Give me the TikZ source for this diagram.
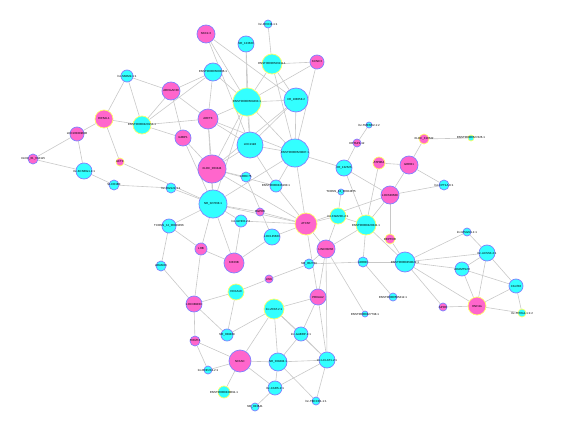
\documentclass[tikz,border=0pt]{standalone}
\usepackage{fontspec}
\setmainfont{Liberation Sans}
\usetikzlibrary{backgrounds}
\definecolor{NodeCyan}{RGB}{51,255,255}
\definecolor{NodePink}{RGB}{255,102,204}
\definecolor{RimBlue}{RGB}{128,128,255}
\definecolor{RimYellow}{RGB}{255,255,102}
\definecolor{EdgeGray}{RGB}{200,200,200}
\begin{document}
\begin{tikzpicture}[x=1pt, y=-1pt,
	gnode/.style={circle, draw, line width=0.7pt, inner sep=0pt,
		label={[font=\fontsize{2.9}{3.2}\selectfont, inner sep=0pt]center:#1}},
	cy/.style={gnode=#1, fill=NodeCyan, draw=RimBlue},
	cyy/.style={gnode=#1, fill=NodeCyan, draw=RimYellow},
	mg/.style={gnode=#1, fill=NodePink, draw=RimBlue},
	mgy/.style={gnode=#1, fill=NodePink, draw=RimYellow},
	dia/.style={minimum size=#1pt},
	edge/.style={draw=EdgeGray, line width=0.6pt}]
	\path[use as bounding box] (0,0) rectangle (571,423);
	% upper part
	\node[cy=lnc-DHX34-1:1, dia=8] (dhx) at (268,24) {};
	\node[mg=NKX2-3, dia=18] (nkx) at (206,34) {};
	\node[cy=NR\_133660, dia=16] (nr133) at (246,44) {};
	\node[cyy=ENST00000526111.1, dia=20] (enstA) at (272,64) {};
	\node[mg=KCNC3, dia=14] (kcnc) at (317,62) {};
	\node[cy=ENST00000580306.1, dia=18] (enstB) at (213,72) {};
	\node[cy=lnc-SMIM2-1:1, dia=12] (smim) at (127,76) {};
	\node[mg=ARHGAP40, dia=18] (arhgap) at (171,91) {};
	\node[cyy=ENST00000509463.1, dia=28] (enstC) at (247,102) {};
	\node[cy=XR\_108058.2, dia=24] (xr108) at (296,100) {};
	\node[mgy=EIF5AL1, dia=18] (eif) at (104,119) {};
	\node[cyy=ENST00000420153.1, dia=18] (enstD) at (142,125) {};
	\node[mg=ARFT3, dia=20] (arft) at (208,119) {};
	\node[mg=LOC100289680, dia=14] (loc100) at (77,134) {};
	\node[mg=G3BP1, dia=16] (g3bp) at (183,138) {};
	\node[cy=LOC2198, dia=26] (loc2198) at (250,145) {};
	\node[cy=ENST00000520887.1, dia=28] (enstE) at (295,153) {};
	\node[cy=lnc-TMEM52-1:2, dia=6] (tmem) at (369,125) {};
	\node[mg=KRTAP4-12, dia=8] (krtap) at (357,143) {};
	\node[mgy=XLOC\_310542, dia=10] (xloc31) at (424,139) {};
	\node[cyy=ENST00000527426.1, dia=6] (enstF) at (471,138) {};
	% left part
	\node[mg=XLOC\_01\_034115, dia=10] (xloc01) at (33,159) {};
	\node[cy=lnc-KCNRG1-1:1, dia=16] (kcnrg) at (84,171) {};
	\node[mgy=ACTC, dia=8] (actc) at (120,162) {};
	\node[cy=SLCO1B3, dia=10] (slco) at (114,185) {};
	% centre
	\node[mg=XLOC\_003444, dia=28] (xloc003) at (212,169) {};
	\node[cy=LRRC75, dia=10] (lrrc) at (246,177) {};
	\node[cy=lnc-RGS22-1:1, dia=10] (rgs) at (171,188) {};
	\node[cy=NR\_027668.1, dia=28] (nr027) at (213,204) {};
	\node[cy=ENST00000436160.1, dia=12] (enstG) at (276,186) {};
	\node[mg=RGPD6, dia=8] (rgpd) at (260,212) {};
	\node[cy=lnc-GRID2-2:2, dia=12] (grid) at (241,221) {};
	\node[cy=LOC145663, dia=16] (loc145) at (272,237) {};
	\node[cy=TCONS\_12\_00029356, dia=14] (tcons12) at (169,226) {};
	\node[mg=LHB, dia=12] (lhb) at (201,249) {};
	\node[mg=KIF26B, dia=20] (kif) at (234,263) {};
	\node[cy=ADAM23, dia=10] (adam) at (161,266) {};
	\node[mg=LIN9, dia=8] (lin) at (269,279) {};
	% right part
	\node[cy=XR\_132526, dia=16] (xr132) at (344,168) {};
	\node[mgy=ATP8B4, dia=12] (atp) at (379,163) {};
	\node[mg=GREB1, dia=18] (greb) at (409,165) {};
	\node[mg=LOC646588, dia=18] (loc646) at (390,195) {};
	\node[cy=TCONS\_12\_00024875, dia=6] (tcons24) at (341,192) {};
	\node[cyy=lnc-FAM20C-2:1, dia=16] (fam) at (338,216) {};
	\node[cyy=ENST00000420341.1, dia=20] (enstH) at (366,225) {};
	\node[mgy=ATXN7, dia=22] (atxn) at (306,224) {};
	\node[mgy=DEPTOR, dia=10] (deptor) at (390,239) {};
	\node[mg=LINC00266, dia=18] (linc) at (326,249) {};
	\node[cy=ADRB3, dia=10] (adrb) at (363,262) {};
	\node[cy=NR\_002734, dia=10] (nr002) at (309,264) {};
	\node[cy=ENST00000458022.1, dia=20] (enstI) at (405,262) {};
	\node[cy=lnc-CPT1A-6:1, dia=10] (cpt) at (444,185) {};
	\node[cy=lnc-MSGN1-1:1, dia=8] (msgn) at (467,232) {};
	\node[cy=lnc-ACSS3-2:1, dia=16] (acss) at (487,253) {};
	\node[cy=ADAMTS20, dia=14] (adamts) at (462,269) {};
	\node[cy=C3orf36, dia=14] (c3orf) at (516,286) {};
	\node[mgy=HNF4G, dia=18] (hnf) at (477,306) {};
	\node[mg=APOH, dia=8] (apoh) at (443,307) {};
	\node[cyy=lnc-TPRG1-1:1:2, dia=8] (tprg) at (522,313) {};
	% lower part
	\node[cyy=HOXA10, dia=16] (hoxa) at (236,292) {};
	\node[mg=LOC389033, dia=16] (loc389) at (194,304) {};
	\node[cyy=lnc-ZFAT-2:1, dia=20] (zfat) at (274,309) {};
	\node[cy=NR\_038408, dia=12] (nr038) at (227,335) {};
	\node[mg=TRIM74, dia=10] (trim) at (195,341) {};
	\node[mg=NFASC, dia=22] (nfasc) at (240,361) {};
	\node[cy=NR\_038484.1, dia=18] (nr0384) at (278,362) {};
	\node[cy=lnc-RNF213-2:1, dia=8] (rnf) at (208,370) {};
	\node[cyy=ENST00000438091.1, dia=12] (enstJ) at (224,392) {};
	\node[cy=lnc-CARS-2:1, dia=14] (cars) at (275,388) {};
	\node[cy=NR\_033641, dia=8] (nr033) at (255,407) {};
	\node[mg=PRKAA2, dia=16] (prkaa) at (318,297) {};
	\node[cy=lnc-GABRP-1:1, dia=14] (gabrp) at (301,334) {};
	\node[cy=lnc-LCLAT1-2:1, dia=16] (lclat) at (327,360) {};
	\node[cy=lnc-TBCCD1-1:1, dia=8] (tbccd) at (316,401) {};
	\node[cy=ENST00000427798.1, dia=6] (enstK) at (365,314) {};
	\node[cy=ENST00000565412.1, dia=8] (enstL) at (393,297) {};
	% edges
	\begin{scope}[on background layer]
		\foreach \a/\b in {dhx/enstA, nkx/enstC, nkx/loc2198, nkx/xr108,
			nr133/enstC, nr133/loc2198, enstA/kcnc, enstA/enstC, enstA/xr108,
			enstA/enstE, kcnc/enstC, kcnc/enstE, enstB/arhgap, enstB/enstC,
			enstB/arft, enstB/enstD, smim/eif, smim/enstD, smim/arhgap,
			eif/enstD, eif/loc100, eif/actc, enstD/arhgap, enstD/arft,
			enstD/g3bp, arhgap/g3bp, arhgap/arft, enstC/xr108, enstC/loc2198,
			enstC/enstE, enstC/arft, enstC/xloc003, enstC/nr027, arft/loc2198,
			arft/xloc003, arft/nr027, arft/enstE, g3bp/xloc003, g3bp/nr027,
			loc2198/xloc003, loc2198/enstE, loc2198/enstG, xr108/enstE,
			xr108/loc2198, xr108/xloc003, enstE/xr132, enstE/enstG, enstE/atxn,
			enstE/nr027, loc100/xloc01, loc100/kcnrg, xloc01/kcnrg, kcnrg/slco,
			actc/nr027, slco/rgs, rgs/nr027, xloc003/nr027, xloc003/lrrc,
			xloc003/enstG, xloc003/atxn, nr027/tcons12, nr027/kif, nr027/lhb,
			nr027/rgpd, nr027/atxn, nr027/grid, lrrc/loc145, enstG/atxn,
			rgpd/atxn, grid/kif, grid/atxn, loc145/atxn, loc145/kif,
			tcons12/lhb, tcons12/adam, lhb/kif, lhb/loc389, adam/loc389,
			loc389/hoxa, loc389/nr038, loc389/trim, hoxa/lin, hoxa/nr038,
			lin/nr002, zfat/nr038, zfat/nfasc, zfat/nr0384, zfat/prkaa,
			zfat/gabrp, zfat/lclat, trim/nfasc, trim/rnf, nfasc/nr0384,
			nfasc/enstJ, nfasc/rnf, nfasc/cars, nr0384/cars, nr0384/gabrp,
			nr0384/lclat, cars/nr033, cars/lclat, prkaa/gabrp, prkaa/lclat,
			prkaa/linc, prkaa/atxn, gabrp/lclat, lclat/tbccd, nr0384/tbccd,
			enstK/linc, enstL/adrb, xr132/krtap, krtap/tmem, xr132/loc646,
			xr132/enstH, atp/greb, atp/enstH, greb/loc646, greb/xloc31,
			greb/cpt, xloc31/enstF, loc646/enstH, loc646/deptor, loc646/atxn,
			loc646/cpt, tcons24/fam, fam/atxn, fam/linc, fam/enstH,
			enstH/adrb, enstH/enstI, enstH/linc, atxn/linc, deptor/enstI,
			linc/nr002, linc/lclat, adrb/enstI, adrb/nr002, enstI/msgn,
			enstI/acss, enstI/adamts, enstI/hnf, msgn/acss, acss/adamts,
			acss/hnf, acss/c3orf, adamts/hnf, adamts/c3orf, c3orf/hnf,
			c3orf/tprg, hnf/tprg, hnf/apoh, apoh/enstI}
			\draw[edge] (\a) -- (\b);
	\end{scope}
\end{tikzpicture}
\end{document}
